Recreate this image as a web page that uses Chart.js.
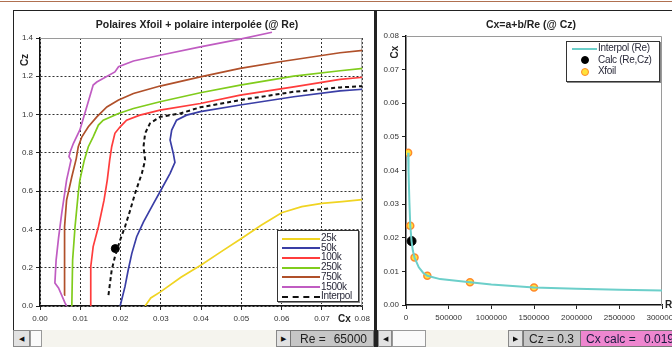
<!DOCTYPE html>
<html><head><meta charset="utf-8">
<script src="https://cdn.jsdelivr.net/npm/chart.js@4/dist/chart.umd.min.js"></script>
<style>
html,body{margin:0;padding:0;width:672px;height:347px;overflow:hidden;background:#fff;font-family:"Liberation Sans",Arial,sans-serif;color:#222;}
.a{position:absolute;box-sizing:border-box;}
.t{position:absolute;white-space:nowrap;}
.ttl{font-weight:bold;font-size:10.5px;color:#222;transform:translate(-50%,-50%);}
.ax{font-weight:bold;font-size:10px;color:#222;}
.rot{transform:translate(-50%,-50%) rotate(-90deg);}
.leg{position:absolute;border:1px solid #333;background:#fff;box-sizing:border-box;box-shadow:1px 1px 0 #888;}
.lt{position:absolute;font-size:10px;line-height:10px;color:#2a2a3a;white-space:nowrap;letter-spacing:-0.3px;}
.btn{background:#e2e2e2;border:1px solid #888;font-size:7px;line-height:15px;text-align:center;color:#111;height:17px;}
.box{height:17px;font-size:12px;line-height:16px;color:#222;border:1px solid #777;}
</style></head><body>
<div class="a" style="left:0;top:1px;width:672px;height:1px;background:#b07050;"></div>
<div class="a" style="left:13px;top:10px;width:363px;height:321px;border:1px solid #222;"></div>
<div class="a" style="left:374px;top:10px;width:320px;height:321px;border-top:1px solid #222;border-left:3px solid #222;"></div>
<canvas id="cL" class="a" width="360" height="318" style="left:14px;top:11px;width:360px;height:318px;"></canvas>
<canvas id="cR" class="a" width="313" height="318" style="left:377px;top:11px;width:313px;height:318px;"></canvas>

<div class="t ttl" style="left:197px;top:24px;">Polaires Xfoil + polaire interpolée (@ Re)</div>
<div class="t ttl" style="left:531px;top:24px;">Cx=a+b/Re (@ Cz)</div>
<div class="t ax rot" style="left:24px;top:60px;">Cz</div>
<div class="t ax" style="left:338px;top:313px;">Cx</div>
<div class="t ax rot" style="left:394px;top:52px;">Cx</div>
<div class="t ax" style="left:665px;top:299px;">Re</div>

<div id="legL" class="leg" style="left:277px;top:230px;width:82px;height:72px;"></div>
<div id="legR" class="leg" style="left:566px;top:41px;width:94px;height:41px;"></div>

<!-- bottom bar -->
<div class="a" style="left:13px;top:330px;width:659px;height:17px;background:#f5f4ee;"></div>
<div class="a btn" style="left:13px;top:330px;width:17px;">&#9664;</div>
<div class="a" style="left:30px;top:330px;width:12px;height:17px;border:1px solid #999;background:#fafafa;"></div>
<div class="a btn" style="left:276px;top:330px;width:15px;">&#9654;</div>
<div class="a box" style="left:290px;top:330px;width:84px;background:#c6c6c6;"><span class="t" style="left:9px;top:0;">Re =</span><span class="t" style="right:6px;top:0;">65000</span></div>
<div class="a" style="left:374px;top:330px;width:4px;height:17px;background:#222;"></div>
<div class="a btn" style="left:378px;top:330px;width:14px;">&#9664;</div>
<div class="a" style="left:392px;top:330px;width:34px;height:17px;border:1px solid #999;background:#fafafa;"></div>
<div class="a btn" style="left:508px;top:330px;width:15px;">&#9654;</div>
<div class="a box" style="left:523px;top:330px;width:58px;background:#c6c6c6;"><span class="t" style="left:5px;top:0;">Cz = 0.3</span></div>
<div class="a box" style="left:580px;top:330px;width:100px;background:#ee86cf;color:#1a1a40;"><span class="t" style="left:5px;top:0;">Cx calc =</span><span class="t" style="left:63px;top:0;">0.019</span></div>

<script>
// ---- Left chart: polars (Cx, Cz) ----
const cx25   = [0.0261,0.0275,0.0300,0.0350,0.0400,0.0450,0.0500,0.0550,0.0600,0.0650,0.0700,0.0750,0.0800];
const cz25   = [0.000,0.042,0.075,0.150,0.214,0.284,0.353,0.423,0.487,0.519,0.536,0.545,0.556];
const cx50   = [0.0199,0.0211,0.0219,0.0228,0.0240,0.0257,0.0282,0.0298,0.0323,0.0335,0.0331,0.0323,0.0327,0.0339,0.0364,0.0398,0.0497,0.0630,0.0745,0.0807];
const cz50   = [0.000,0.101,0.188,0.275,0.362,0.440,0.536,0.597,0.693,0.750,0.797,0.867,0.919,0.971,0.997,1.015,1.050,1.093,1.124,1.133];
const cx100  = [0.0126,0.0126,0.0132,0.0145,0.0159,0.0167,0.0173,0.0178,0.0186,0.0199,0.0215,0.0248,0.0298,0.0398,0.0497,0.0630,0.0745,0.0807];
const cz100  = [0.000,0.205,0.310,0.414,0.553,0.658,0.762,0.832,0.902,0.936,0.971,0.997,1.023,1.058,1.102,1.145,1.184,1.196];
const cx250  = [0.0079,0.0081,0.0087,0.0095,0.0099,0.0110,0.0120,0.0132,0.0145,0.0157,0.0195,0.0232,0.0298,0.0398,0.0497,0.0630,0.0745,0.0807];
const cz250  = [0.000,0.240,0.414,0.590,0.658,0.762,0.832,0.884,0.945,0.971,1.006,1.032,1.067,1.114,1.154,1.201,1.229,1.243];
const cx750  = [0.0060,0.0060,0.0062,0.0066,0.0079,0.0090,0.0095,0.0104,0.0120,0.0141,0.0166,0.0195,0.0232,0.0298,0.0398,0.0497,0.0596,0.0745,0.0807];
const cz750  = [0.057,0.240,0.414,0.553,0.675,0.770,0.832,0.884,0.936,0.988,1.040,1.076,1.110,1.149,1.197,1.241,1.276,1.323,1.337];
const cx1500 = [0.0066,0.0062,0.0046,0.0037,0.0040,0.0046,0.0054,0.0066,0.0077,0.0072,0.0075,0.0083,0.0099,0.0116,0.0132,0.0141,0.0186,0.0195,0.0232,0.0298,0.0398,0.0497,0.0576];
const cz1500 = [0.000,0.016,0.094,0.120,0.240,0.355,0.485,0.658,0.762,0.780,0.806,0.850,0.920,1.040,1.154,1.170,1.223,1.250,1.280,1.310,1.354,1.394,1.430];
const cxInt  = [0.0170,0.0178,0.0186,0.0199,0.0211,0.0224,0.0236,0.0253,0.0261,0.0257,0.0261,0.0273,0.0298,0.0348,0.0398,0.0497,0.0630,0.0745,0.0807];
const czInt  = [0.057,0.188,0.257,0.345,0.414,0.501,0.588,0.693,0.762,0.832,0.902,0.954,0.988,1.006,1.038,1.076,1.119,1.142,1.149];
const calcCx = 0.0187, calcCz = 0.30, calcRe = 65000, calcCxR = 0.019;

// ---- Right chart: Cx vs Re ----
const reXfoil = [25000,50000,100000,250000,750000,1500000];
const cxXfoil = [0.0453,0.0236,0.0141,0.0087,0.0068,0.0052];
const reInterp = [25000,30000,40000,50000,65000,80000,100000,150000,200000,250000,400000,750000,1000000,1500000,2000000,2500000,3000000];
const cxInterp = [0.0453,0.0395,0.0305,0.0236,0.0190,0.0162,0.0141,0.0112,0.0096,0.0087,0.0077,0.0068,0.0061,0.0052,0.0048,0.0045,0.0043];

// ---- axis tick definitions ----
const xTicksL = {min:0, max:0.08, step:0.01};
const yTicksL = {min:0, max:1.4, step:0.2};
const xTicksR = {min:0, max:3000000, step:500000};
const yTicksR = {min:0, max:0.08, step:0.01};

const pts = (xs, ys) => xs.map((x,i)=>({x:x, y:ys[i]}));
Chart.defaults.font.family = '"Liberation Sans", Arial, sans-serif';
Chart.defaults.color = '#333';

const frame = {
  id:'frame',
  beforeDatasetsDraw(chart){
    const {ctx, chartArea:a} = chart;
    ctx.save(); ctx.strokeStyle='#9a9a9a'; ctx.lineWidth=1;
    ctx.beginPath(); ctx.moveTo(a.left, a.top+0.5); ctx.lineTo(a.right-0.5, a.top+0.5); ctx.lineTo(a.right-0.5, a.bottom); ctx.stroke();
    ctx.restore();
  }
};

const lineDs = (label, xs, ys, color, extra) => Object.assign({
  label, data: pts(xs, ys), borderColor: color, backgroundColor: color,
  showLine: true, pointRadius: 0, borderWidth: 1.7, tension: 0
}, extra || {});

const tickFont = {size: 8};

const chartL = new Chart(document.getElementById('cL'), {
  type: 'scatter',
  data: { datasets: [
    lineDs('25k', cx25, cz25, '#f0d422'),
    lineDs('50k', cx50, cz50, '#3a3ea6'),
    lineDs('100k', cx100, cz100, '#ff3c3c'),
    lineDs('250k', cx250, cz250, '#80cc1c'),
    lineDs('750k', cx750, cz750, '#b0502a'),
    lineDs('1500k', cx1500, cz1500, '#c05cc2', {clip: false}),
    lineDs('Interpol', cxInt, czInt, '#111', {borderDash:[4,3], borderWidth:2}),
    {label:'Calc', data:[{x:calcCx, y:calcCz}], showLine:false, pointRadius:4, backgroundColor:'#000', borderColor:'#000'}
  ]},
  options: {
    responsive:false, animation:false, events:[],
    layout:{padding:{left:0, right:11, top:27, bottom:0}},
    plugins:{legend:{display:false}, title:{display:false}, tooltip:{enabled:false}},
    scales:{
      x:{type:'linear', min:xTicksL.min, max:xTicksL.max,
         ticks:{stepSize:xTicksL.step, callback:v=>v.toFixed(2), font:tickFont, color:'#333', padding:4, maxRotation:0, autoSkip:false},
         grid:{color:'#333', lineWidth:1, tickLength:4, tickColor:'#222'},
         border:{display:true, color:'#111', width:1.5, dash:[2,2]},
         afterFit:s=>{s.height=23;}},
      y:{type:'linear', min:yTicksL.min, max:yTicksL.max,
         ticks:{stepSize:yTicksL.step, callback:v=>v.toFixed(1), font:tickFont, color:'#333', padding:3, autoSkip:false},
         grid:{color:'#333', lineWidth:1, tickLength:4, tickColor:'#222'},
         border:{display:true, color:'#111', width:1.5, dash:[2,2]},
         afterFit:s=>{s.width=26;}}
    }
  },
  plugins:[frame]
});

const chartR = new Chart(document.getElementById('cR'), {
  type: 'scatter',
  data: { datasets: [
    lineDs('Interpol (Re)', reInterp, cxInterp, '#6ccfca', {borderWidth:2}),
    {label:'Calc (Re,Cz)', data:[{x:calcRe, y:calcCxR}], showLine:false, pointRadius:4.5, backgroundColor:'#000', borderColor:'#000'},
    {label:'Xfoil', data:pts(reXfoil, cxXfoil), showLine:false, pointRadius:3.5, borderWidth:1.5, backgroundColor:'#ffe23a', borderColor:'#ff8a2a'}
  ]},
  options: {
    responsive:false, animation:false, events:[],
    layout:{padding:{left:0, right:28, top:25, bottom:0}},
    plugins:{legend:{display:false}, title:{display:false}, tooltip:{enabled:false}},
    scales:{
      x:{type:'linear', min:xTicksR.min, max:xTicksR.max,
         ticks:{stepSize:xTicksR.step, callback:v=>String(v), font:tickFont, color:'#333', padding:4, maxRotation:0, autoSkip:false},
         grid:{drawOnChartArea:false, tickLength:4, tickColor:'#222'},
         border:{display:true, color:'#111', width:1.5},
         afterFit:s=>{s.height=24;}},
      y:{type:'linear', min:yTicksR.min, max:yTicksR.max,
         ticks:{stepSize:yTicksR.step, callback:v=>v.toFixed(2), font:tickFont, color:'#333', padding:3, autoSkip:false},
         grid:{drawOnChartArea:false, tickLength:4, tickColor:'#222'},
         border:{display:true, color:'#111', width:1.5},
         afterFit:s=>{s.width=29;}}
    }
  },
  plugins:[frame]
});

// ---- HTML legends built from the datasets ----
function buildLegend(el, chart, rowH, top0, sampleX, sampleW, textX, skip){
  let r = 0;
  chart.data.datasets.forEach(ds=>{
    if (skip && skip.includes(ds.label)) return;
    const cy = top0 + r*rowH;
    if (ds.showLine) {
      const ln = document.createElement('div');
      ln.style.cssText = `position:absolute;left:${sampleX}px;top:${cy-1}px;width:${sampleW}px;height:0;border-top:${ds.borderDash? '2px dashed '+ds.borderColor : '2px solid '+ds.borderColor};`;
      el.appendChild(ln);
    } else {
      const d = document.createElement('div');
      const rr = 3;
      d.style.cssText = `position:absolute;left:${sampleX+sampleW/2-rr-1}px;top:${cy-rr-1}px;width:${2*rr}px;height:${2*rr}px;border-radius:50%;background:${ds.backgroundColor};border:1px solid ${ds.borderColor};`;
      el.appendChild(d);
    }
    const t = document.createElement('div');
    t.className='lt'; t.textContent = ds.label;
    t.style.left = textX+'px'; t.style.top = (cy-5.5)+'px';
    el.appendChild(t);
    r++;
  });
}
buildLegend(document.getElementById('legL'), chartL, 9.7, 7.5, 4, 38, 43, ['Calc']);
buildLegend(document.getElementById('legR'), chartR, 11.5, 6.5, 5, 25, 31, null);
</script>
</body></html>
